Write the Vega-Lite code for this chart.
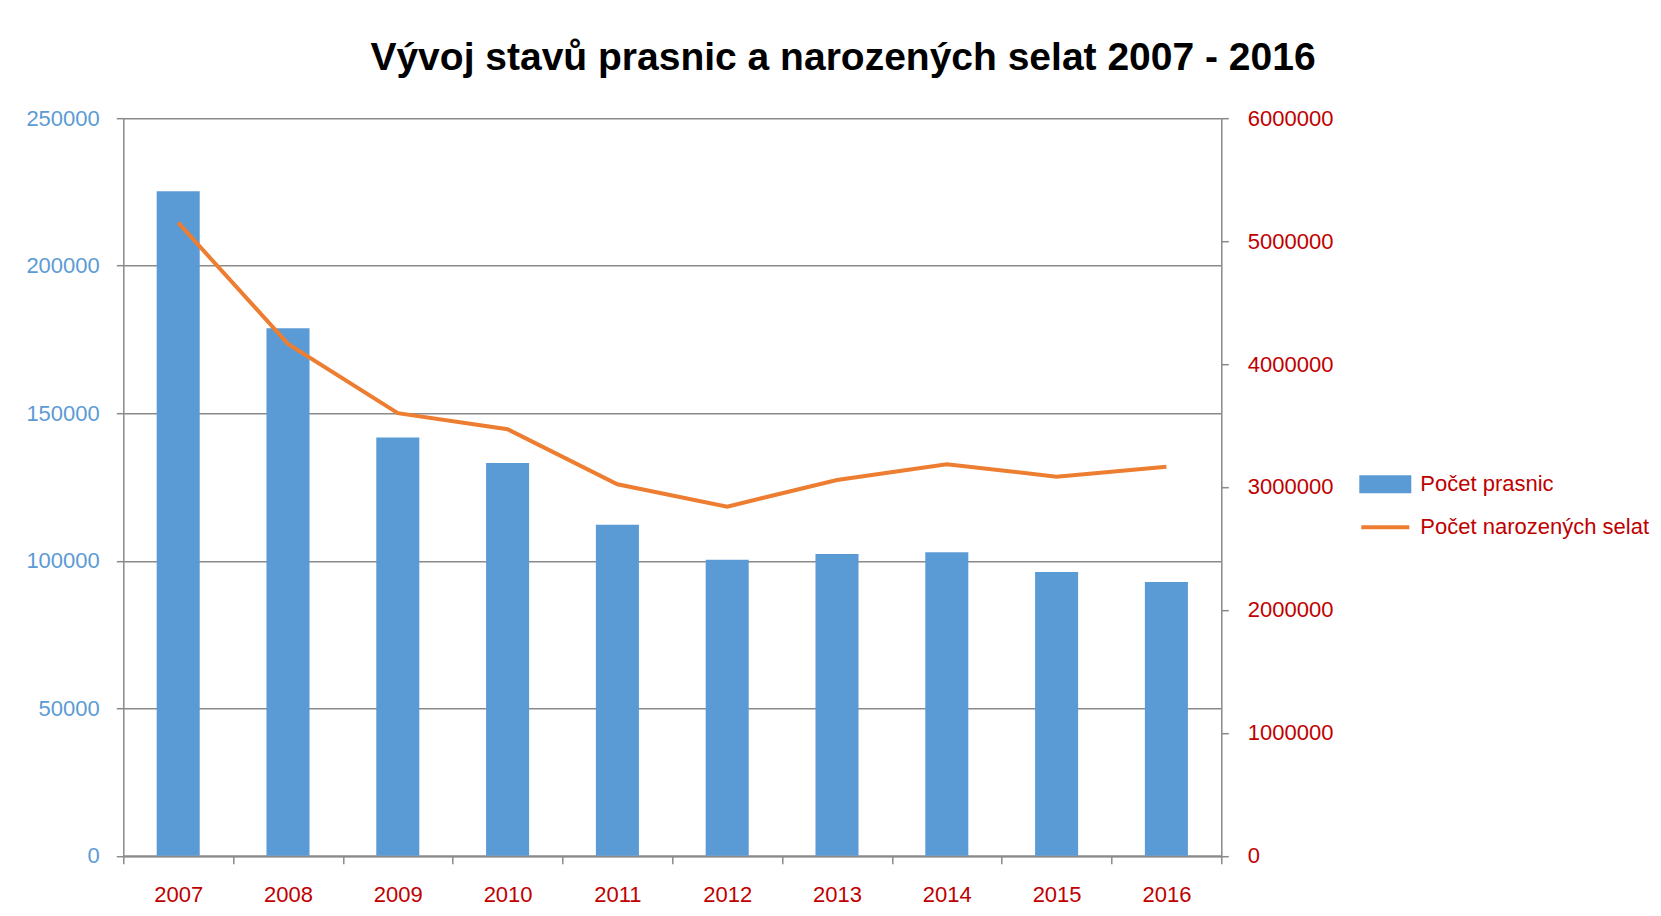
{
  "$schema": "https://vega.github.io/schema/vega-lite/v6.json",
  "width": 1098,
  "height": 737.5,
  "autosize": "none",
  "padding": {"left": 123.3, "top": 118.2, "right": 439.7, "bottom": 60.3},
  "background": "white",
  "config": {
    "font": "Liberation Sans",
    "view": {"stroke": null}
  },
  "title": {
    "text": "Vývoj stavů prasnic a narozených selat 2007 - 2016",
    "font": "Liberation Sans",
    "fontSize": 39,
    "fontWeight": "bold",
    "color": "#000000",
    "anchor": "middle",
    "frame": "group",
    "dx": 170.7,
    "baseline": "alphabetic",
    "offset": -2
  },
  "data": {
    "values": [
      {"year": "2007", "prasnice": 225200, "selata": 5150000},
      {"year": "2008", "prasnice": 178800, "selata": 4164000},
      {"year": "2009", "prasnice": 141800, "selata": 3600000},
      {"year": "2010", "prasnice": 133100, "selata": 3469000},
      {"year": "2011", "prasnice": 112200, "selata": 3022000},
      {"year": "2012", "prasnice": 100300, "selata": 2840000},
      {"year": "2013", "prasnice": 102300, "selata": 3057000},
      {"year": "2014", "prasnice": 102900, "selata": 3185000},
      {"year": "2015", "prasnice": 96200, "selata": 3084000},
      {"year": "2016", "prasnice": 92800, "selata": 3165000}
    ]
  },
  "encoding": {
    "x": {
      "field": "year",
      "type": "ordinal",
      "scale": {"paddingInner": 0, "paddingOuter": 0},
      "axis": {
        "title": null,
        "labelAngle": 0,
        "labelColor": "#C00000",
        "labelFontSize": 22,
        "labelPadding": 21,
        "tickBand": "extent",
        "tickSize": 8,
        "tickColor": "#8A8A8A",
        "tickWidth": 1.5,
        "domainColor": "#8A8A8A",
        "domainWidth": 2,
        "grid": false
      }
    },
    "color": {
      "type": "nominal",
      "scale": {
        "domain": ["Počet prasnic", "Počet narozených selat"],
        "range": ["#5B9BD5", "#ED7D31"]
      },
      "legend": {
        "title": null,
        "orient": "none",
        "legendX": 1236,
        "legendY": 340,
        "padding": 0,
        "symbolSize": 2304,
        "symbolStrokeWidth": 4,
        "labelFontSize": 22,
        "labelColor": "#C00000",
        "labelOffset": 9,
        "labelLimit": 400,
        "rowPadding": 2,
        "encode": {
          "symbols": {
            "update": {
              "shape": {"signal": "datum.value === 'Počet prasnic' ? 'M-1,-0.29H1V0.29H-1Z' : 'M-1,0H1'"},
              "fill": {"signal": "datum.value === 'Počet prasnic' ? '#5B9BD5' : 'transparent'"},
              "stroke": {"signal": "datum.value === 'Počet prasnic' ? 'transparent' : '#ED7D31'"},
              "strokeWidth": {"value": 4},
              "opacity": {"value": 1}
            }
          }
        }
      }
    }
  },
  "layer": [
    {
      "mark": {"type": "bar", "width": {"band": 0.392}},
      "encoding": {
        "y": {
          "field": "prasnice",
          "type": "quantitative",
          "scale": {"domain": [0, 250000], "nice": false},
          "axis": {
            "title": null,
            "values": [0, 50000, 100000, 150000, 200000, 250000],
            "format": "d",
            "labelColor": "#5B9BD5",
            "labelFontSize": 22,
            "labelPadding": 17,
            "tickSize": 7,
            "tickColor": "#8A8A8A",
            "tickWidth": 1.5,
            "domainColor": "#8A8A8A",
            "domainWidth": 1.5,
            "grid": true,
            "gridColor": "#8A8A8A",
            "gridWidth": 1.5
          }
        },
        "color": {"datum": "Počet prasnic"}
      }
    },
    {
      "mark": {"type": "line", "strokeWidth": 4},
      "encoding": {
        "y": {
          "field": "selata",
          "type": "quantitative",
          "scale": {"domain": [0, 6000000], "nice": false},
          "axis": {
            "title": null,
            "orient": "right",
            "values": [0, 1000000, 2000000, 3000000, 4000000, 5000000, 6000000],
            "format": "d",
            "labelColor": "#C00000",
            "labelFontSize": 22,
            "labelPadding": 19,
            "tickSize": 7,
            "tickColor": "#8A8A8A",
            "tickWidth": 1.5,
            "domainColor": "#8A8A8A",
            "domainWidth": 1.5,
            "grid": false
          }
        },
        "color": {"datum": "Počet narozených selat"}
      }
    }
  ],
  "resolve": {"scale": {"y": "independent"}}
}
